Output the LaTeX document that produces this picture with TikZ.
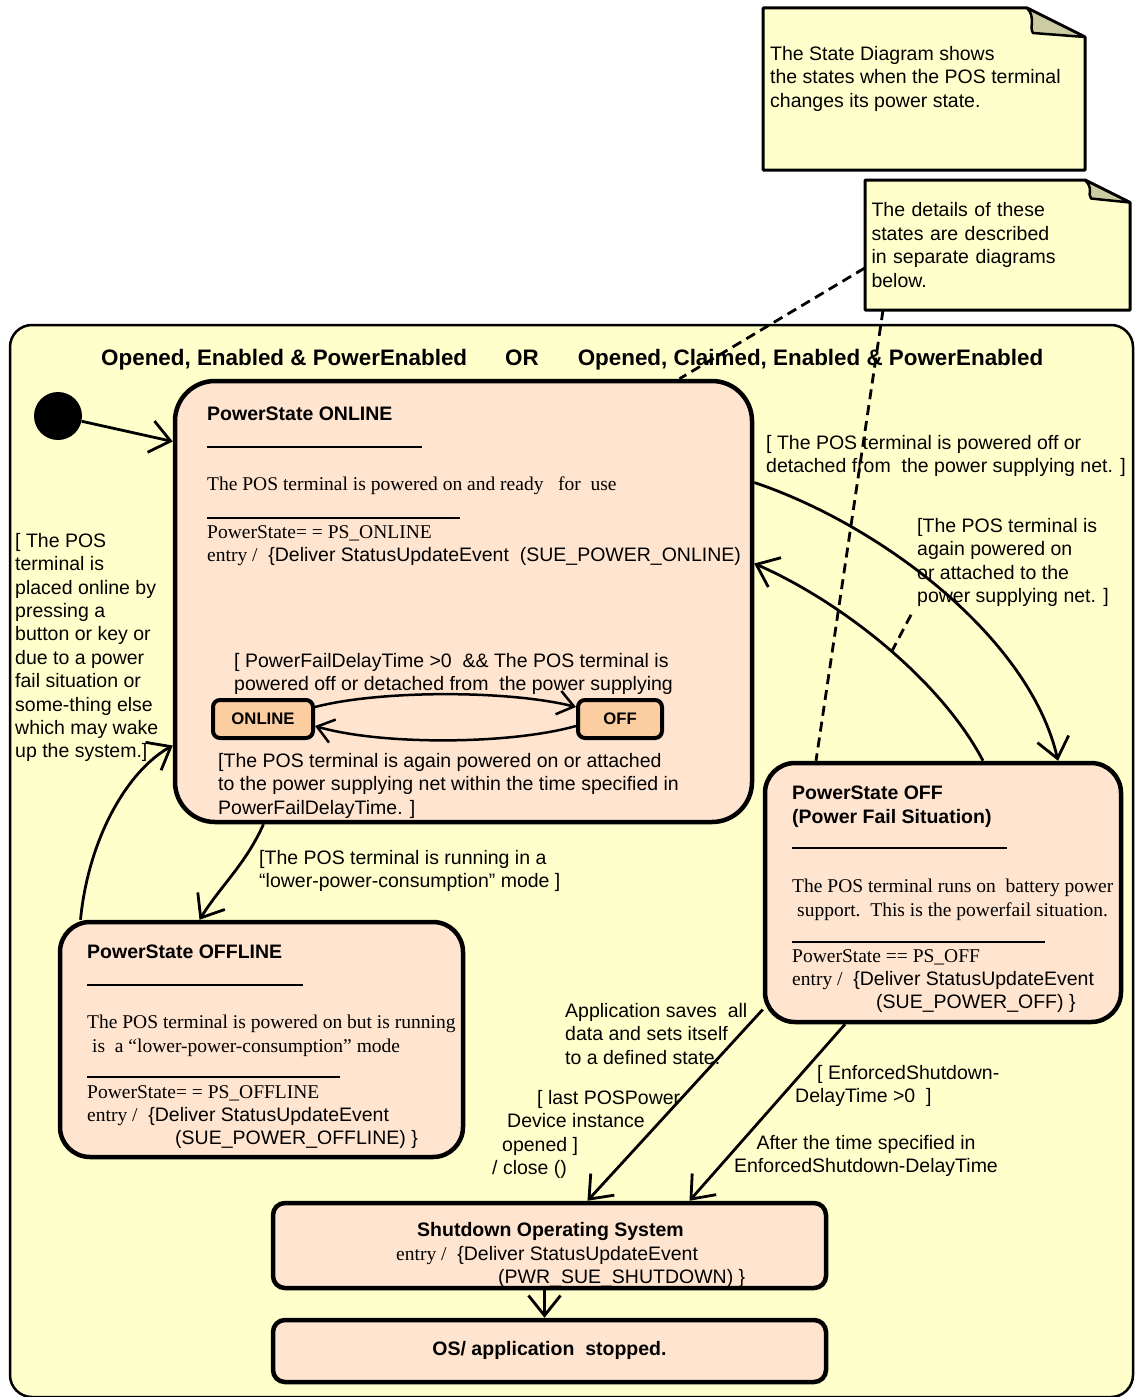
\documentclass[tikz,border=0pt]{standalone}
\usepackage{fontspec}
\setmainfont{Liberation Serif}
\setsansfont{Liberation Sans}
\usepackage{tikz}
\usetikzlibrary{arrows.meta,positioning,shapes}

\definecolor{bgyellow}{RGB}{255,255,204}
\definecolor{statefill}{RGB}{255,229,208}
\definecolor{subfill}{RGB}{251,205,160}
\definecolor{foldgray}{RGB}{204,204,163}

\newcommand{\lblsize}{\fontsize{19.5}{23.4}\selectfont}
\newcommand{\hdrsize}{\fontsize{22.4}{26}\selectfont}
\newcommand{\subsize}{\fontsize{16.7}{20}\selectfont}

\tikzset{
     container/.style={draw, line width=2.5pt, fill=bgyellow, rounded corners=22pt, inner sep=0pt},
     pstate/.style={draw, line width=4.5pt, fill=statefill, rounded corners=#1, inner sep=0pt},
     substate/.style={draw, line width=4pt, fill=subfill, rounded corners=7pt, inner sep=0pt, font=\sffamily\bfseries\subsize},
     txt/.style={inner sep=0pt, anchor=north west, align=left},
     stitle/.style={txt, font=\sffamily\bfseries\lblsize},
     sdesc/.style={txt, font=\rmfamily\lblsize},
     trans/.style={->, line width=2.8pt},
     subtrans/.style={-{Straight Barb[length=16pt,width=24pt]}, line width=2.5pt},
     noteline/.style={line width=2.8pt, dash pattern=on 10pt off 6pt},
     notebox/.style={draw, line width=3pt, fill=bgyellow, line join=round},
     fold/.style={draw, line width=2.5pt, fill=foldgray, line join=round},
     sep/.style={line width=1.3pt},
}
\tikzset{>={Straight Barb[length=20pt,width=32pt]}}

% note paper with turned corner: left, top, right, bottom, fold width
\newcommand{\dogear}[5]{%
  \draw[notebox] (#1,#2) -- (#3-#5,#2) -- (#3,#2+#5/2) -- (#3,#4) -- (#1,#4) -- cycle;
  \draw[fold] (#3-#5,#2) .. controls (#3-#5+9,#2+9) and (#3-#5+2,#2+#5/2-9) .. (#3-#5+6,#2+#5/2-4) -- (#3,#2+#5/2) -- cycle;
}

\begin{document}
\begin{tikzpicture}[x=1pt,y=-1pt,font=\sffamily\lblsize]
\useasboundingbox (0,0) rectangle (1136,1397);

% notes
\dogear{763}{8}{1085}{170}{58}
\node[txt] (note1) at (770,46) {The State Diagram shows\\the states when the POS terminal\\changes its power state.};
\dogear{865}{180}{1130}{310}{45}
\node[inner sep=0pt, minimum width=265pt, minimum height=130pt, text width=252pt, align=left] (note2) at (997.5,245) {The details of these\\states are described\\in separate diagrams\\below.};

% outer state
\node[container, minimum width=1123pt, minimum height=1072pt] (ctx) at (571.5,861) {};
\node[inner sep=0pt, anchor=west, font=\sffamily\bfseries\hdrsize] (title) at (101,360) {Opened, Enabled \& PowerEnabled\hspace{38pt}OR\hspace{39pt}Opened, Claimed, Enabled \& PowerEnabled};

\node[circle, fill=black, inner sep=0pt, minimum size=48pt] (init) at (58,416) {};

% PowerState ONLINE
\node[pstate=40pt, minimum width=577pt, minimum height=441pt] (online) at (463.5,601.5) {};
\node[stitle] (onName) at (207,407) {PowerState ONLINE};
\draw[sep] (207,447) -- (422,447);
\node[sdesc] (onDesc) at (207,477) {The POS terminal is powered on and ready\ \ \ for\ \ use};
\draw[sep] (207,518) -- (460,518);
\node[txt] (onEntry) at (207,525) {{\rmfamily PowerState= = PS\_ONLINE}\\{\rmfamily entry /}\ \ \{Deliver StatusUpdateEvent\ \ (SUE\_POWER\_ONLINE)};
\node[substate, minimum width=100pt, minimum height=38pt] (ion) at (263,719) {ONLINE};
\node[substate, minimum width=84pt, minimum height=38pt] (ioff) at (620,719) {OFF};

% PowerState OFFLINE
\node[pstate=30pt, minimum width=403pt, minimum height=235pt] (offline) at (261.5,1039.5) {};
\node[stitle] (offlName) at (87,945) {PowerState OFFLINE};
\draw[sep] (87,985) -- (303,985);
\node[sdesc] (offlDesc) at (87,1015) {The POS terminal is powered on but is running\\\hspace*{5pt}is\ \ a “lower-power-consumption” mode};
\draw[sep] (87,1077) -- (340,1077);
\node[txt] (offlEntry) at (87,1085) {{\rmfamily PowerState= = PS\_OFFLINE}\\{\rmfamily entry /}\ \ \{Deliver StatusUpdateEvent\\\hspace*{88pt}(SUE\_POWER\_OFFLINE) \}};

% PowerState OFF
\node[pstate=30pt, minimum width=356pt, minimum height=259pt] (off) at (943,892.5) {};
\node[stitle] (offName) at (792,786) {PowerState OFF\\(Power Fail Situation)};
\draw[sep] (792,848) -- (1007,848);
\node[sdesc] (offDesc) at (792,879) {The POS terminal runs on\ \ battery power\\\hspace*{5pt}support.\ \ This is the powerfail situation.};
\draw[sep] (792,942) -- (1045,942);
\node[txt] (offEntry) at (792,949) {{\rmfamily PowerState == PS\_OFF}\\{\rmfamily entry /}\ \ \{Deliver StatusUpdateEvent\\\hspace*{84pt}(SUE\_POWER\_OFF) \}};

% shutdown
\node[pstate=12pt, minimum width=553pt, minimum height=85pt] (shut) at (549.5,1245.5) {};
\node[stitle] (shutName) at (417,1222) {Shutdown Operating System};
\node[txt] (shutEntry) at (396,1246) {{\rmfamily entry /}\ \ \{Deliver StatusUpdateEvent\\\hspace*{102pt}(PWR\_SUE\_SHUTDOWN) \}};
\node[pstate=12pt, minimum width=553pt, minimum height=62pt, font=\sffamily\bfseries\lblsize, text depth=6pt] (stop) at (549.5,1351) {OS/ application\ \ stopped.};

% transitions
\draw[trans] (init) -- ([yshift=160pt]online.west);
\draw[trans] ([yshift=119pt]online.east) .. controls +(128,43) and +(-28,-122) .. ([xshift=115pt]off.north);
\draw[trans] ([xshift=40pt]off.north) .. controls +(-43,-82) and +(85,37) .. ([yshift=38pt]online.east) coordinate[pos=0.47] (backMid);
\draw[trans] ([xshift=-200pt]online.south) .. controls +(-18,40) and +(22,-35) .. ([xshift=-62pt]offline.north);
\draw[trans] ([xshift=-181pt]offline.north) .. controls +(8,-82) and +(-45,25) .. ([yshift=-144pt]online.west);
\draw[subtrans] ([yshift=12pt]ion.east) .. controls +(65,-17) and +(-68,-17) .. ([yshift=12pt]ioff.west);
\draw[subtrans] ([yshift=-7pt]ioff.west) .. controls +(-68,19) and +(65,19) .. ([yshift=-7pt]ion.east);
\draw[trans] ([yshift=-117pt]off.west) -- ([xshift=38pt]shut.north);
\draw[trans] ([xshift=-98pt]off.south) -- ([xshift=140pt]shut.north);
\draw[trans] ([xshift=-5pt]shut.south) -- ([xshift=-5pt]stop.north);

% guards
\node[txt] (lblWake) at (15,533) {[ The POS\\terminal is\\placed online by\\pressing a\\button or key or\\due to a power\\fail situation or\\some-thing else\\which may wake\\up the system.]};
\node[txt] (lblOffline) at (259,850) {[The POS terminal is running in a\\“lower-power-consumption” mode ]};
\node[txt] (lblOff) at (766,435) {[ The POS terminal is powered off or\\detached from\ \ the power supplying net. ]};
\node[txt] (lblBack) at (917,518) {[The POS terminal is\\again powered on\\or attached to the\\power supplying net. ]};
\node[txt] (lblFail) at (234,653) {[ PowerFailDelayTime >0\ \ \&\& The POS terminal is\\powered off or detached from\ \ the power supplying};
\node[txt] (lblRestore) at (218,753) {[The POS terminal is again powered on or attached\\to the power supplying net within the time specified in\\PowerFailDelayTime. ]};
\node[txt] (lblSave) at (565,1003) {Application saves\ \ all\\data and sets itself\\to a defined state.};
\node[txt] (lblLast) at (492,1090) {\hspace*{45pt}[ last POSPower\\\hspace*{15pt}Device instance\\\hspace*{10pt}opened ]\\/ close ()};
\node[txt] (lblEnforce) at (795,1065) {\hspace*{22pt}[ EnforcedShutdown-\\DelayTime >0\ \ ]};
\node[txt, anchor=north, align=center] (lblAfter) at (866,1135) {After the time specified in\\EnforcedShutdown-DelayTime};

% note anchors
\draw[noteline] ([yshift=-23pt]note2.west) -- ([xshift=216pt]online.north);
\draw[noteline] ([xshift=-114.5pt]note2.south) -- ([xshift=-127pt]off.north);
\draw[noteline] ([xshift=-6pt,yshift=-8pt]lblBack.south west) -- (backMid);
\end{tikzpicture}
\end{document}
